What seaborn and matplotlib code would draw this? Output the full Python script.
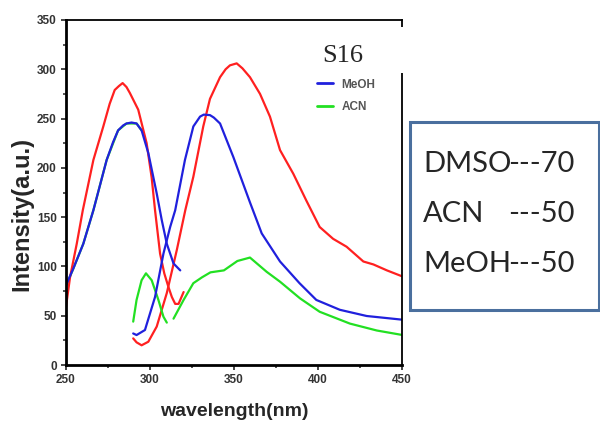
import numpy as np
import matplotlib
matplotlib.use("Agg")
import matplotlib.pyplot as plt
import seaborn as sns
from matplotlib.lines import Line2D
from matplotlib.patches import Rectangle

# DMSO (red), two pieces
dmso_x1 = [250, 252.4, 256.4, 260, 266.3, 272.2, 276, 279, 281.5, 283.7, 286, 288, 293, 298, 301, 303, 306, 308.5, 311, 313, 315, 317, 320]
dmso_y1 = [59, 89, 123, 157, 208, 242, 265, 279, 283, 286, 282, 276, 259, 225, 190, 157, 113, 93, 79, 69, 62, 62, 74]
dmso_x2 = [290, 292, 295, 299, 304, 310, 316, 321, 325.8, 331.7, 335.7, 341.7, 345, 347.6, 351.6, 355, 359.5,
           365.5, 371.4, 377.4, 385.3, 393, 401, 409, 417, 427, 433, 441, 450]
dmso_y2 = [27, 23, 20, 23.6, 39, 73, 117, 157, 191, 242, 270, 292, 300, 304, 306, 301, 292,
           275, 252, 218, 194, 167, 140, 128, 120, 105, 102, 96, 90]

# MeOH (blue)
meoh_x1 = [250, 254.4, 260.3, 266.3, 274.2, 278, 281, 284, 286, 289, 292, 295, 299, 304, 307, 310, 314, 318]
meoh_y1 = [81, 98, 123, 157, 208, 226, 238, 243, 245, 246, 245, 238, 215, 174, 147, 123, 103, 96]
meoh_x2 = [290, 292, 297, 303, 308, 312, 315, 320.8, 325.8, 329.8, 332, 335.7, 338, 341.7, 349.6, 359.5,
           366.5, 377.4, 389, 399, 413, 429, 450]
meoh_y2 = [32, 30.4, 35.5, 69, 113, 140, 157, 208, 242, 252, 254, 253.5, 251, 245, 211, 165,
           133.5, 105, 83, 66, 56, 49.7, 46]

# ACN (green), three pieces
acn_x1 = [250, 254.4, 260.3, 266.3, 274.2, 281, 286, 292, 295]
acn_y1 = [80, 98, 123, 157, 208, 238, 245, 245, 238]
acn_x2 = [290, 292, 295, 297.6, 301, 305, 308, 310]
acn_y2 = [44, 66, 86, 93, 86, 66, 49, 43]
acn_x3 = [314, 320, 325.8, 331, 336, 344, 352, 359.5, 369.4, 377.4, 389.3, 401, 419, 435, 450]
acn_y3 = [47, 66, 83, 89, 94, 96, 105.5, 109, 94.6, 84.5, 67.6, 54, 42, 35, 30.5]

legend_labels = ["MeOH", "ACN"]
box_names = ["DMSO", "ACN", "MeOH"]
box_values = ["---70", "---50", "---50"]

RED, BLUE, GREEN = "#ff2020", "#2020dd", "#22e022"

sns.set_style("ticks")
plt.rcParams["font.family"] = ["Liberation Sans", "DejaVu Sans"]

fig = plt.figure(figsize=(6, 4.29), dpi=100)
ax = fig.add_axes([66 / 600, 1 - 365 / 429, 336 / 600, 345 / 429])

lw = 1.6
sns.lineplot(x=acn_x1, y=acn_y1, sort=False, estimator=None, color=GREEN, lw=lw, ax=ax)
sns.lineplot(x=dmso_x1, y=dmso_y1, sort=False, estimator=None, color=RED, lw=lw, ax=ax)
sns.lineplot(x=dmso_x2, y=dmso_y2, sort=False, estimator=None, color=RED, lw=lw, ax=ax)
sns.lineplot(x=acn_x2, y=acn_y2, sort=False, estimator=None, color=GREEN, lw=lw, ax=ax)
sns.lineplot(x=acn_x3, y=acn_y3, sort=False, estimator=None, color=GREEN, lw=lw, ax=ax)
sns.lineplot(x=meoh_x1, y=meoh_y1, sort=False, estimator=None, color=BLUE, lw=lw, ax=ax)
sns.lineplot(x=meoh_x2, y=meoh_y2, sort=False, estimator=None, color=BLUE, lw=lw, ax=ax)

ax.set_xlim(250, 450)
ax.set_ylim(0, 350)
ax.set_xticks([250, 300, 350, 400, 450])
ax.set_yticks(np.arange(0, 351, 50))
ax.set_xticks(np.arange(275, 450, 50), minor=True)
ax.set_yticks(np.arange(25, 350, 50), minor=True)
ax.tick_params(which="major", direction="out", length=3.6, width=1.2, pad=3,
               labelsize=8.5, labelcolor="#333333")
ax.tick_params(which="minor", direction="out", length=2.2, width=1.1)
for t in ax.get_xticklabels() + ax.get_yticklabels():
    t.set_fontweight("bold")

for side in ["left", "bottom"]:
    ax.spines[side].set_linewidth(2.0)
for side in ["top", "right"]:
    ax.spines[side].set_linewidth(1.3)
    ax.spines[side].set_visible(True)
for s in ax.spines.values():
    s.set_color("black")

ax.set_ylabel("Intensity(a.u.)", fontsize=17, fontweight="bold")
ax.set_xlabel("wavelength(nm)", fontsize=14, fontweight="bold")
ax.yaxis.set_label_coords(-0.098, 0.438)
ax.xaxis.set_label_coords(0.5, -0.11)

handles = [Line2D([], [], color=BLUE, lw=2), Line2D([], [], color=GREEN, lw=2)]
ax.legend(handles, legend_labels, frameon=False, loc="upper left",
          bbox_to_anchor=(306 / 600, 1 - 68 / 429), bbox_transform=fig.transFigure,
          prop={"family": "Liberation Sans", "weight": "bold", "size": 8.5},
          labelcolor="#555555", handlelength=1.4, handletextpad=0.7, labelspacing=0.85)

# white patch behind the S16 label
fig.add_artist(Rectangle((300 / 600, 1 - 73 / 429), 106 / 600, 46 / 429,
                         transform=fig.transFigure, facecolor="white", edgecolor="none", zorder=5))
fig.text(322 / 600, 1 - 62 / 429, "S16", family="Liberation Serif", fontsize=19,
         va="baseline", ha="left", zorder=6)

# info box on the right
fig.add_artist(Rectangle((410 / 600, 1 - 310 / 429), 189 / 600, 188 / 429,
                         transform=fig.transFigure, facecolor="white", edgecolor="#4a6f9e",
                         lw=2.2, zorder=5))
for i, (name, val) in enumerate(zip(box_names, box_values)):
    yb = 1 - (172 + 50 * i) / 429
    fig.text(423 / 600, yb, name, family="Lato", fontsize=21, va="baseline", ha="left", zorder=6)
    fig.text(508 / 600, yb, val, family="Lato", fontsize=21, va="baseline", ha="left", zorder=6)

fig.savefig("out.png", dpi=100)
